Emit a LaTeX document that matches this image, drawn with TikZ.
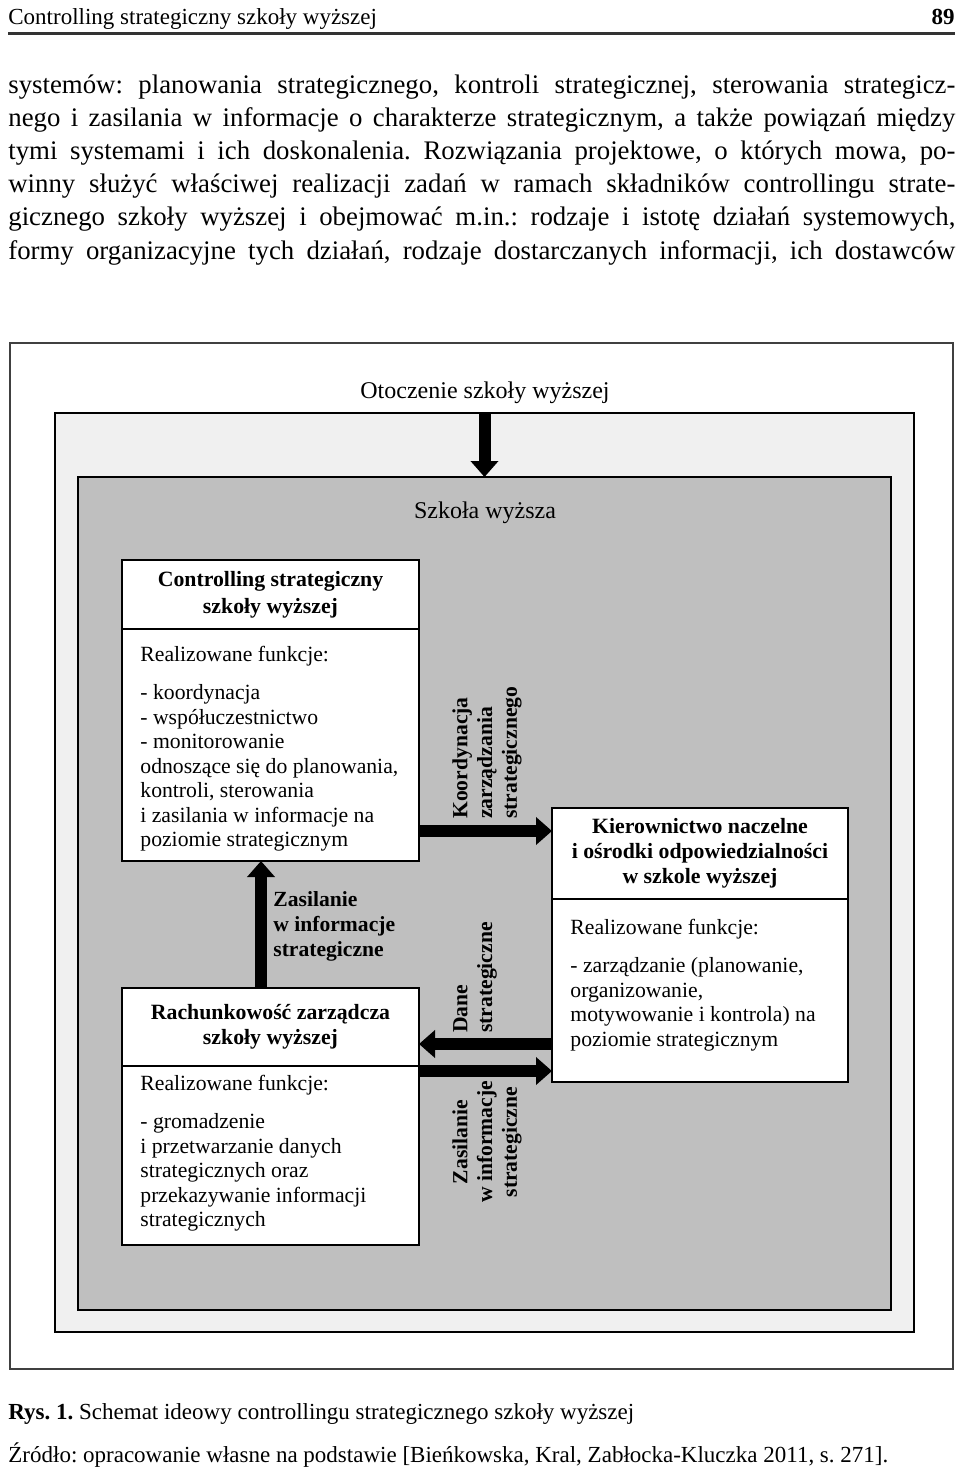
\documentclass[tikz,border=0pt]{standalone}
\usepackage{fontspec}
\setmainfont{Liberation Serif}
\usetikzlibrary{arrows.meta, positioning}
\frenchspacing

\newcommand{\justLine}[1]{\makebox[473.5pt][s]{#1}}

\begin{document}
\begin{tikzpicture}[
        x=0.5pt, y=-0.5pt,
        pageText/.style={inner sep=0pt, font=\fontsize{11.5}{13.8}\selectfont},
        paraText/.style={inner sep=0pt, align=left, font=\fontsize{13.4}{16.6}\selectfont},
        pageFrame/.style={draw=black!75, line width=1.2pt, fill=white, inner sep=0pt, outer sep=0pt},
        envBlock/.style={draw=black, line width=0.8pt, fill=black!6, inner sep=0pt, outer sep=0pt},
        schoolBlock/.style={draw=black, line width=0.6pt, fill=black!25, inner sep=0pt, outer sep=0pt},
        headBlock/.style={draw=black, line width=0.8pt, fill=white, align=center,
            inner sep=0pt, outer sep=0pt, font=\fontsize{10.9}{12.5}\bfseries\selectfont},
        bodyBlock/.style={draw=black, line width=0.8pt, fill=white, inner sep=0pt, outer sep=0pt},
        funcText/.style={inner sep=0pt, align=left, font=\fontsize{10.85}{12.25}\selectfont},
        flowLabel/.style={inner sep=0pt, font=\fontsize{10.8}{12.4}\bfseries\selectfont},
        fatArrow/.style={line width=6pt, -{Triangle[width=13.5pt, length=8pt]}}
    ]
        \useasboundingbox (0,0) rectangle (960,1469);

        % Page header and running text
        \node (pageTitle) [pageText, anchor=base west] at (8,24) {Controlling strategiczny szkoły wyższej};
        \node (pageNum) [pageText, anchor=base east, font=\fontsize{11.5}{13.8}\bfseries\selectfont] at (955,24) {89};
        \draw [line width=1.5pt, black!80] (8,33) -- (955,33);

        \node (runText) [paraText, anchor=north west] at (8,74) {%
            \justLine{systemów: planowania strategicznego, kontroli strategicznej, sterowania strategicz-}\\
            \justLine{nego i zasilania w informacje o charakterze strategicznym, a także powiązań między}\\
            \justLine{tymi systemami i ich doskonalenia. Rozwiązania projektowe, o których mowa, po-}\\
            \justLine{winny służyć właściwej realizacji zadań w ramach składników controllingu strate-}\\
            \justLine{gicznego szkoły wyższej i obejmować m.in.: rodzaje i istotę działań systemowych,}\\
            \justLine{formy organizacyjne tych działań, rodzaje dostarczanych informacji, ich dostawców}};

        % Frames
        \node (frame) [pageFrame, minimum width=471.5pt, minimum height=513pt] at (481.5,856) {};
        \node (environment) [envBlock, minimum width=429.5pt, minimum height=459.5pt] at (484.5,872.5) {};
        \node (school) [schoolBlock, minimum width=406.5pt, minimum height=416.5pt] at (484.5,893.5) {};

        \node (envLabel) [font=\fontsize{12}{14}\selectfont] at (485,393) {Otoczenie szkoły wyższej};
        \node (schoolLabel) [font=\fontsize{12}{14}\selectfont] at (485,513) {Szkoła wyższa};

        % Blocks
        \node (ctrlHead) [headBlock, anchor=north, minimum width=148.5pt, minimum height=34.5pt,
            font=\fontsize{10.9}{13.5}\bfseries\selectfont] at (270.5,560)
            {Controlling strategiczny\\szkoły wyższej};
        \node (ctrlBody) [bodyBlock, below=0pt of ctrlHead, minimum width=148.5pt, minimum height=116pt] {};
        \node (ctrlText) [funcText, below right=8.5pt and 9pt of ctrlBody.north west]
            {Realizowane funkcje:\\[6.75pt]
             - koordynacja\\
             - współuczestnictwo\\
             - monitorowanie\\
             odnoszące się do planowania,\\
             kontroli, sterowania\\
             i zasilania w informacje na\\
             poziomie strategicznym};

        \node (mgmtHead) [headBlock, anchor=north, minimum width=148pt, minimum height=45.5pt] at (700,808)
            {Kierownictwo naczelne\\i ośrodki odpowiedzialności\\w szkole wyższej};
        \node (mgmtBody) [bodyBlock, below=0pt of mgmtHead, minimum width=148pt, minimum height=91.5pt] {};
        \node (mgmtText) [funcText, below right=10pt and 9pt of mgmtBody.north west]
            {Realizowane funkcje:\\[6.75pt]
             - zarządzanie (planowanie,\\
             organizowanie,\\
             motywowanie i kontrola) na\\
             poziomie strategicznym};

        \node (acctHead) [headBlock, anchor=north, minimum width=148.5pt, minimum height=39pt] at (270.5,988)
            {Rachunkowość zarządcza\\szkoły wyższej};
        \node (acctBody) [bodyBlock, below=0pt of acctHead, minimum width=148.5pt, minimum height=89.5pt] {};
        \node (acctText) [funcText, below right=4.5pt and 9pt of acctBody.north west]
            {Realizowane funkcje:\\[6.75pt]
             - gromadzenie\\
             i przetwarzanie danych\\
             strategicznych oraz\\
             przekazywanie informacji\\
             strategicznych};

        % Arrows
        \draw [fatArrow] (environment.north) -- (school.north);
        \draw [fatArrow] ([yshift=15pt]ctrlBody.south east) -- ([yshift=15pt]ctrlBody.south east -| mgmtHead.west);
        \draw [fatArrow] ([xshift=-4.75pt]acctHead.north) -- ([xshift=-4.75pt]ctrlBody.south);
        \draw [fatArrow] ([yshift=19pt]mgmtBody.south west) -- ([yshift=19pt]mgmtBody.south west -| acctHead.east);
        \draw [fatArrow] ([yshift=5.5pt]mgmtBody.south west -| acctBody.east) -- ([yshift=5.5pt]mgmtBody.south west);

        % Arrow labels
        \node (coordLabel) [flowLabel, rotate=90, anchor=west, align=left] at (487,819)
            {Koordynacja\\zarządzania\\strategicznego};
        \node (supplyLabel) [flowLabel, anchor=north west, align=left] at (273,891)
            {Zasilanie\\w informacje\\strategiczne};
        \node (dataLabel) [flowLabel, rotate=90, anchor=west, align=left] at (475,1033)
            {Dane\\strategiczne};
        \node (supplyLabelB) [flowLabel, rotate=90, align=center] at (487,1142)
            {Zasilanie\\w informacje\\strategiczne};

        % Caption
        \node (figCaption) [pageText, anchor=base west] at (8,1419)
            {\textbf{Rys. 1.} Schemat ideowy controllingu strategicznego szkoły wyższej};
        \node (figSource) [pageText, anchor=base west] at (8,1462)
            {Źródło: opracowanie własne na podstawie [Bieńkowska, Kral, Zabłocka-Kluczka 2011, s. 271].};
    \end{tikzpicture}
\end{document}
